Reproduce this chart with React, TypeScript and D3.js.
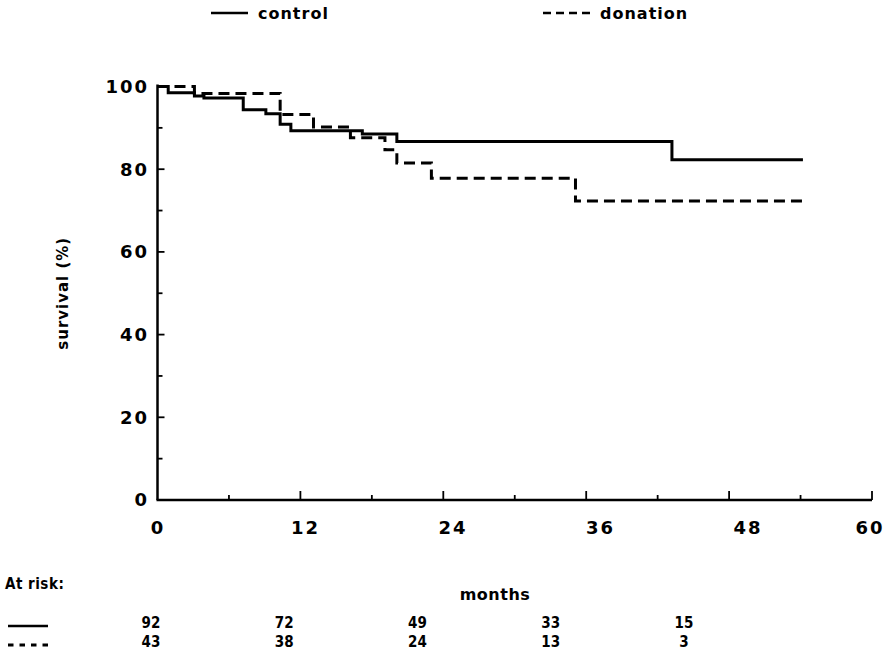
import React from "react"
import * as d3 from "d3"

// survival curves (months, % surviving)
const controlTimes = [0, 0.9, 3.1, 3.9, 7.2, 9.1, 10.3, 11.2, 17.2, 20.1, 43.2, 54.2]
const controlSurvival = [100, 98.5, 97.7, 97.2, 94.4, 93.4, 90.9, 89.3, 88.5, 86.7, 82.3, 82.3]
const donationTimes = [0, 3.1, 10.3, 13.1, 16.2, 19.1, 20.1, 23.0, 35.1, 54.2]
const donationSurvival = [100, 98.3, 93.2, 90.2, 87.6, 84.7, 81.5, 77.8, 72.3, 72.3]

const xTickLabels = [0, 12, 24, 36, 48, 60]
const yTickLabels = [0, 20, 40, 60, 80, 100]
const xMinorTicks = [6, 12, 18, 24, 30, 36, 42, 48, 54, 60]
const yMinorTicks = [10, 20, 30, 40, 50, 60, 70, 80, 90]

const riskControl = [92, 72, 49, 33, 15]
const riskDonation = [43, 38, 24, 13, 3]

const font = "'DejaVu Sans', 'Liberation Sans', Arial, sans-serif"
const narrow = "'DejaVu Sans Condensed', 'Liberation Sans Narrow', 'DejaVu Sans', sans-serif"

export default function App() {
    const width = 889
    const height = 653

    const x = d3.scaleLinear().domain([0, 60]).range([157.5, 872])
    const y = d3.scaleLinear().domain([0, 100]).range([500, 86.5])
    // the printed month labels drift a little right of their ticks
    const xLabel = d3.scaleLinear().domain([0, 48]).range([158, 748])
    const riskCol = d3.scaleLinear().domain([0, 4]).range([151, 684])

    const line = d3
        .line<[number, number]>()
        .x(d => x(d[0]))
        .y(d => y(d[1]))
        .curve(d3.curveStepAfter)

    const control = controlTimes.map((t, i) => [t, controlSurvival[i]] as [number, number])
    const donation = donationTimes.map((t, i) => [t, donationSurvival[i]] as [number, number])

    const x0 = x(0)
    const y0 = y(0)

    return (
        <svg
            width={width}
            height={height}
            style={{ position: "absolute", left: 0, top: 0, background: "#fff" }}
            fontFamily={font}
            fontWeight="bold"
        >
            {/* legend */}
            <line x1={211} x2={248} y1={13} y2={13} stroke="#000" strokeWidth={2.5} />
            <text x={258} y={19} fontSize={16} letterSpacing={1}>control</text>
            <line x1={543} x2={590} y1={13} y2={13} stroke="#000" strokeWidth={2.5} strokeDasharray="8,5" />
            <text x={600} y={19} fontSize={16} letterSpacing={1}>donation</text>

            {/* axes */}
            <line x1={x0} x2={x0} y1={y0} y2={y(100) - 2} stroke="#000" strokeWidth={2.5} />
            <line x1={x0 - 1} x2={x(60)} y1={y0} y2={y0} stroke="#000" strokeWidth={2.5} />
            {yMinorTicks.map(v => (
                <line key={"yt" + v} x1={x0} x2={x0 + (v % 20 === 0 ? 7 : 5)} y1={y(v)} y2={y(v)}
                    stroke="#000" strokeWidth={1.8} />
            ))}
            {xMinorTicks.map(v => (
                <line key={"xt" + v} x1={x(v)} x2={x(v)} y1={y0} y2={y0 - (v % 12 === 0 ? 9 : 5)}
                    stroke="#000" strokeWidth={1.8} />
            ))}
            {yTickLabels.map(v => (
                <text key={"yl" + v} x={149} y={y(v)} dy="0.36em" textAnchor="end" fontSize={18} letterSpacing={2}>
                    {v}
                </text>
            ))}
            {xTickLabels.map(v => (
                <text key={"xl" + v} x={Math.min(xLabel(v), x(60) - 2)} y={528} dy="0.36em" textAnchor="middle"
                    fontSize={18} letterSpacing={2}>
                    {v}
                </text>
            ))}

            <text transform={`translate(68,${y(50)}) rotate(-90)`} textAnchor="middle" fontSize={15} letterSpacing={1}>
                survival  (%)
            </text>

            {/* curves */}
            <path d={line(control) || ""} fill="none" stroke="#000" strokeWidth={3} />
            <path d={line(donation) || ""} fill="none" stroke="#000" strokeWidth={3} strokeDasharray="11,6" />

            {/* at risk table */}
            <text x={5} y={584} dy="0.36em" fontFamily={narrow} fontSize={15} letterSpacing={0.5}>At risk:</text>
            <text x={495} y={594} dy="0.36em" textAnchor="middle" fontSize={16} letterSpacing={0.5}>months</text>
            <line x1={8} x2={48} y1={626} y2={626} stroke="#000" strokeWidth={2.5} />
            <line x1={8} x2={48} y1={645} y2={645} stroke="#000" strokeWidth={3} strokeDasharray="5.5,6" />
            {riskControl.map((v, i) => (
                <text key={"rc" + i} x={riskCol(i)} y={623} dy="0.36em" textAnchor="middle" fontFamily={narrow}
                    fontSize={15}>{v}</text>
            ))}
            {riskDonation.map((v, i) => (
                <text key={"rd" + i} x={riskCol(i)} y={642} dy="0.36em" textAnchor="middle" fontFamily={narrow}
                    fontSize={15}>{v}</text>
            ))}
        </svg>
    )
}
